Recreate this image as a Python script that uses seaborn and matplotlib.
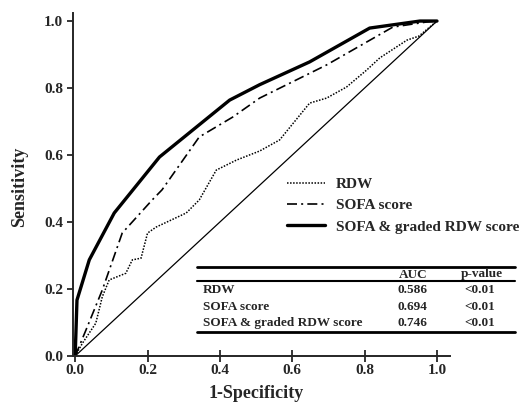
import matplotlib
matplotlib.use('Agg')
import matplotlib.pyplot as plt
import seaborn as sns
import pandas as pd
from matplotlib.lines import Line2D

# --- Data ---
rdw_fpr = [0, 0.02, 0.057, 0.075, 0.094, 0.14, 0.158, 0.182, 0.2, 0.224, 0.307, 0.343,
           0.39, 0.446, 0.51, 0.565, 0.648, 0.695, 0.75, 0.806, 0.842, 0.917, 0.95, 1.0]
rdw_tpr = [0, 0.038, 0.098, 0.177, 0.227, 0.247, 0.287, 0.292, 0.367, 0.385, 0.427, 0.466,
           0.555, 0.585, 0.612, 0.645, 0.755, 0.77, 0.803, 0.854, 0.89, 0.943, 0.955, 1.0]

sofa_fpr = [0, 0.03, 0.075, 0.13, 0.213, 0.24, 0.343, 0.435, 0.51, 0.695, 0.878, 0.97, 1.0]
sofa_tpr = [0, 0.078, 0.197, 0.367, 0.466, 0.496, 0.654, 0.713, 0.77, 0.869, 0.982, 0.997, 1.0]

combo_fpr = [0, 0.005, 0.039, 0.108, 0.233, 0.427, 0.51, 0.648, 0.814, 0.953, 1.0]
combo_tpr = [0, 0.167, 0.287, 0.427, 0.594, 0.764, 0.81, 0.878, 0.979, 1.0, 1.0]

ref_line = [0, 1]

labels = ['RDW', 'SOFA score', 'SOFA & graded RDW score']
auc_values = ['0.586', '0.694', '0.746']
p_values = ['<0.01', '<0.01', '<0.01']

# --- Style ---
sns.set_style('ticks')
plt.rcParams['font.family'] = ['Liberation Serif', 'DejaVu Serif']
plt.rcParams['font.weight'] = 'bold'

W, H = 520, 404
fig = plt.figure(figsize=(W / 100, H / 100), dpi=100)


def fx(px):
    return px / W


def fy(py):
    return 1 - py / H


ax = fig.add_axes([fx(73), fy(356), fx(450) - fx(73), fy(13) - fy(356)])

styles = [
    (rdw_fpr, rdw_tpr, dict(lw=1.1, linestyle=(0, (1, 1)))),
    (sofa_fpr, sofa_tpr, dict(lw=1.2, linestyle=(0, (6, 2.5, 1.2, 2.5)))),
    (combo_fpr, combo_tpr, dict(lw=2.4, linestyle='-')),
]
handles = []
for (x, y, kw), lab in zip(styles, labels):
    df = pd.DataFrame({'fpr': x, 'tpr': y})
    sns.lineplot(data=df, x='fpr', y='tpr', ax=ax, color='black', sort=False,
                 estimator=None, **kw)
    handles.append(Line2D([], [], color='black', **kw))

# chance line
sns.lineplot(x=ref_line, y=ref_line, ax=ax, color='black', lw=0.9)

ax.set_xlim(-0.006, 1.036)
ax.set_ylim(0, 1.024)
ax.set_xticks([0, 0.2, 0.4, 0.6, 0.8, 1.0])
ax.set_yticks([0, 0.2, 0.4, 0.6, 0.8, 1.0])
ax.set_xticklabels(['0.0', '0.2', '0.4', '0.6', '0.8', '1.0'])
ax.set_yticklabels(['0.0', '0.2', '0.4', '0.6', '0.8', '1.0'])
ax.tick_params(axis='x', direction='inout', length=8, width=1.3, labelsize=11, pad=2)
ax.tick_params(axis='y', direction='out', length=4, width=1.3, labelsize=11, pad=3)
for lab in ax.get_xticklabels() + ax.get_yticklabels():
    lab.set_fontweight('bold')
sns.despine(ax=ax)
ax.spines['left'].set_linewidth(1.4)
ax.spines['bottom'].set_linewidth(1.4)

ax.set_xlabel('1-Specificity', fontsize=13, fontweight='bold')
ax.set_ylabel('Sensitivity', fontsize=13, fontweight='bold')
ax.xaxis.set_label_coords(fx(256), fy(385), transform=fig.transFigure)
ax.yaxis.set_label_coords(fx(28), fy(187), transform=fig.transFigure)

# legend
leg = ax.legend(handles, labels, loc='center left',
                bbox_to_anchor=(fx(287), fy(205.5)), bbox_transform=fig.transFigure,
                frameon=False, fontsize=11, handlelength=2.5, handletextpad=0.7,
                labelspacing=0.5, borderpad=0, borderaxespad=0)
for t in leg.get_texts():
    t.set_fontweight('bold')

# AUC table
tbl_x0, tbl_x1 = 197, 515
for py, lw in [(267, 2.0), (281, 1.5), (332, 2.0)]:
    fig.add_artist(Line2D([fx(tbl_x0), fx(tbl_x1)], [fy(py), fy(py)],
                          color='black', lw=lw, transform=fig.transFigure))
fig.text(fx(413), fy(274.5), 'AUC', ha='center', va='center', fontsize=9.5, fontweight='bold')
fig.text(fx(482), fy(274.5), 'p-value', ha='center', va='center', fontsize=9.5, fontweight='bold')
for row_y, lab, auc, p in zip([290, 307, 323], labels, auc_values, p_values):
    fig.text(fx(203), fy(row_y), lab, ha='left', va='center', fontsize=9.5, fontweight='bold')
    fig.text(fx(412), fy(row_y), auc, ha='center', va='center', fontsize=9.5, fontweight='bold')
    fig.text(fx(480), fy(row_y), p, ha='center', va='center', fontsize=9.5, fontweight='bold')

fig.savefig('out.png', dpi=100)
